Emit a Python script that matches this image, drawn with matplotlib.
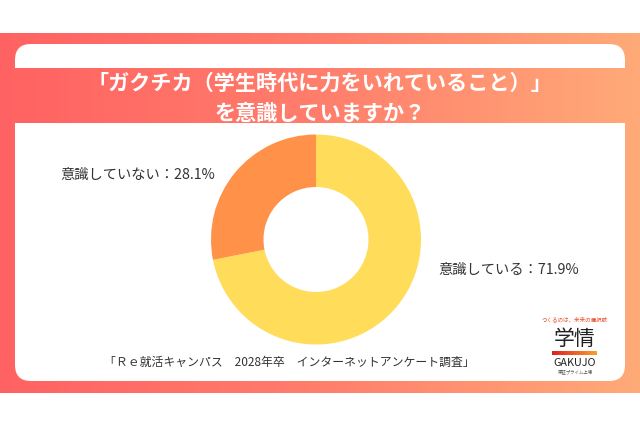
import numpy as np
import matplotlib
matplotlib.use("Agg")
import matplotlib.pyplot as plt
from matplotlib.patches import FancyBboxPatch, Rectangle
from matplotlib.colors import LinearSegmentedColormap

plt.rcParams['font.family'] = ['Noto Sans CJK JP', 'DejaVu Sans']

# ---- data ----
categories = ["意識している", "意識していない"]
values = [71.9, 28.1]
colors = ["#FFDC5A", "#FF9148"]
title_lines = ["「ガクチカ（学生時代に力をいれていること）」", "を意識していますか？"]
source = "「Ｒｅ就活キャンパス　2028年卒　インターネットアンケート調査」"

W, H = 640, 426
fig = plt.figure(figsize=(W / 100, H / 100), dpi=100)
bg = fig.add_axes([0, 0, 1, 1])
bg.set_xlim(0, W)
bg.set_ylim(H, 0)
bg.axis("off")

grad_cmap = LinearSegmentedColormap.from_list("g", ["#FF6262", "#FF7E6C", "#FFAA78"])
grad = np.linspace(0, 1, 256).reshape(1, -1)

# outer gradient band
bg.imshow(grad, cmap=grad_cmap, extent=[0, W, 393, 33], aspect="auto", zorder=0)

# white rounded box
box = FancyBboxPatch((15, 44), 610, 337, boxstyle="round,pad=0,rounding_size=16",
                     facecolor="white", edgecolor="none", zorder=1)
bg.add_patch(box)

# title strip (gradient)
strip_im = bg.imshow(grad, cmap=grad_cmap, extent=[0, W, 123, 68], aspect="auto", zorder=2)
strip_im.set_clip_path(Rectangle((15, 68), 610, 55, transform=bg.transData))

bg.text(320, 83, title_lines[0], color="white", fontsize=15.2, fontweight="bold",
        ha="center", va="center", zorder=3)
bg.text(320, 113, title_lines[1], color="white", fontsize=15.2, fontweight="bold",
        ha="center", va="center", zorder=3)

# labels
bg.text(60, 175, f"{categories[1]}：{values[1]}%", color="#333333", fontsize=10.3,
        ha="left", va="center", zorder=3)
bg.text(438, 270, f"{categories[0]}：{values[0]}%", color="#333333", fontsize=10.3,
        ha="left", va="center", zorder=3)

# source
bg.text(104, 362, source, color="#333333", fontsize=8.55, ha="left", va="center", zorder=3)

# logo
bg.text(575, 319, "つくるのは、未来の選択肢", color="#E8502E", fontsize=4, ha="center",
        va="center", zorder=3)
bg.text(575, 339, "学情", color="#222222", fontsize=15, ha="center", va="center", zorder=3)
bar = bg.imshow(np.linspace(0, 1, 64).reshape(1, -1),
                cmap=LinearSegmentedColormap.from_list("b", ["#E02020", "#F5A030"]),
                extent=[552, 597, 355, 351], aspect="auto", zorder=3)
bg.text(575, 363, "GAKUJO", color="#222222", fontsize=7.8, ha="center", va="center", zorder=3)
bg.text(575, 372, "東証プライム上場", color="#555555", fontsize=3.2, ha="center",
        va="center", zorder=3)

# donut
cx, cy, r = 316, 239.5, 105
ax = fig.add_axes([(cx - r) / W, (H - cy - r) / H, 2 * r / W, 2 * r / H])
ax.pie(values, colors=colors, startangle=90, counterclock=False, radius=1,
       wedgeprops=dict(width=0.5, edgecolor="none"))
ax.set_xlim(-1, 1)
ax.set_ylim(-1, 1)
ax.set_aspect("auto")
ax.axis("off")

fig.savefig("out.png", dpi=100)
